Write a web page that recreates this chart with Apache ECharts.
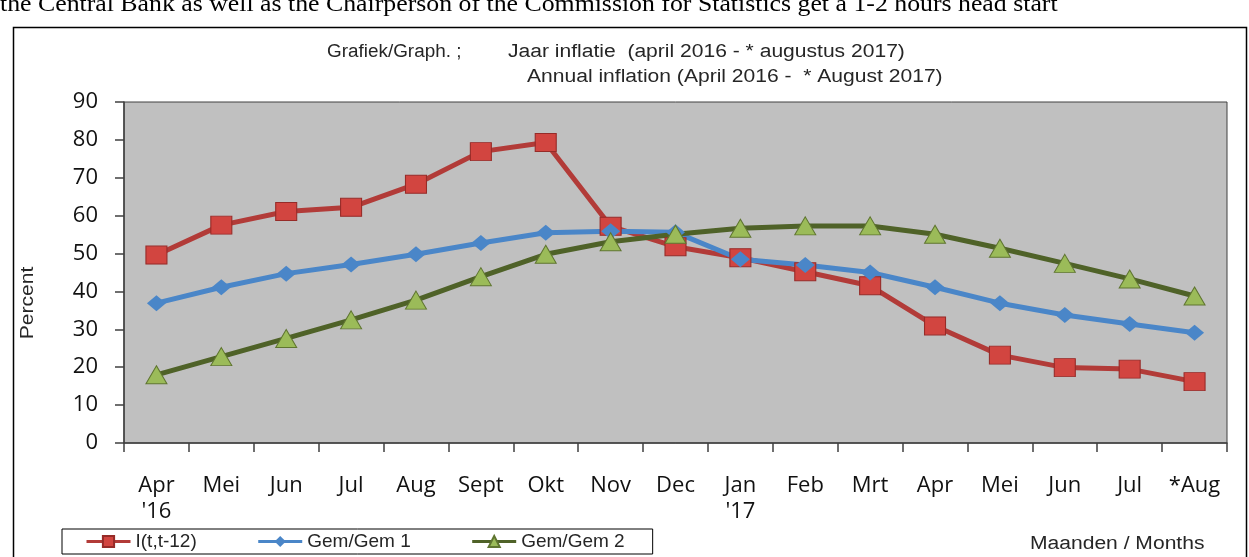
<!DOCTYPE html>
<html lang="en">
<head>
    <meta charset="UTF-8">
    <title>Jaar inflatie / Annual inflation</title>
    <script src="https://cdn.jsdelivr.net/npm/echarts@6/dist/echarts.min.js"></script>
    <style>
        html, body { margin: 0; padding: 0; background: #fff; }
    </style>
</head>
<body>
<div id="main" style="width: 1249px;height:557px;"></div>
<script type="text/javascript">
    // months april 2016 - august 2017 (* = provisional)
    var months = ['Apr', 'Mei', 'Jun', 'Jul', 'Aug', 'Sept', 'Okt', 'Nov', 'Dec',
                  'Jan', 'Feb', 'Mrt', 'Apr', 'Mei', 'Jun', 'Jul', '*Aug'];
    var years = ["'16", '', '', '', '', '', '', '', '', "'17", '', '', '', '', '', '', ''];

    // I(t,t-12)
    var inflation = [49.6, 57.5, 61.1, 62.2, 68.3, 76.9, 79.3, 57.2, 51.8,
                     48.9, 45.2, 41.5, 30.9, 23.2, 19.9, 19.5, 16.2];
    // Gem/Gem 1
    var gem1 = [36.9, 41.1, 44.7, 47.1, 49.8, 52.8, 55.5, 55.9, 55.6,
                48.5, 47.0, 45.0, 41.1, 36.9, 33.8, 31.4, 29.1];
    // Gem/Gem 2
    var gem2 = [18.0, 22.8, 27.6, 32.5, 37.7, 43.9, 49.8, 53.1, 55.1,
                56.7, 57.3, 57.3, 55.1, 51.4, 47.4, 43.3, 38.8];

    var yTicks = [0, 10, 20, 30, 40, 50, 60, 70, 80, 90];

    var chartDom = document.getElementById('main');
    var myChart = echarts.init(chartDom);
    var option;

    var sansFont = '18px "Liberation Sans", Arial, sans-serif';
    var stretch = 1.17;

    option = {
        animation: false,
        backgroundColor: '#fff',
        graphic: [
            {
                type: 'text', x: 0, y: 5, scaleX: 1.075, silent: true,
                style: {
                    text: 'the Central Bank as well as the Chairperson of the Commission for Statistics get a 1-2 hours head start',
                    font: '24px "Liberation Serif", "Times New Roman", serif',
                    fill: '#000', textAlign: 'left', textVerticalAlign: 'middle'
                }
            },
            {
                type: 'rect', silent: true,
                shape: { x: 13.5, y: 27.5, width: 1233, height: 560 },
                style: { fill: 'none', stroke: '#000', lineWidth: 1.5 }
            },
            {
                type: 'text', x: 327, y: 52, scaleX: 1.05, silent: true,
                style: { text: 'Grafiek/Graph. ;', font: sansFont, fill: '#262626', textVerticalAlign: 'middle' }
            },
            {
                type: 'text', x: 508, y: 52, scaleX: stretch, silent: true,
                style: { text: 'Jaar inflatie  (april 2016 - * augustus 2017)', font: sansFont, fill: '#262626', textVerticalAlign: 'middle' }
            },
            {
                type: 'text', x: 527, y: 77, scaleX: stretch, silent: true,
                style: { text: 'Annual inflation (April 2016 -  * August 2017)', font: sansFont, fill: '#262626', textVerticalAlign: 'middle' }
            },
            {
                type: 'text', x: 28, y: 303, rotation: Math.PI / 2, scaleX: stretch, silent: true,
                style: { text: 'Percent', font: sansFont, fill: '#262626', textAlign: 'center', textVerticalAlign: 'middle' }
            },
            {
                type: 'text', x: 1030, y: 544, scaleX: stretch, silent: true,
                style: { text: 'Maanden / Months', font: sansFont, fill: '#262626', textVerticalAlign: 'middle' }
            }
        ],
        legend: {
            left: 62,
            top: 529,
            orient: 'horizontal',
            padding: [3, 28, 3, 23],
            itemWidth: 44,
            itemHeight: 14,
            itemGap: 60,
            borderColor: '#000',
            borderWidth: 1,
            backgroundColor: '#fff',
            lineStyle: { width: 3 },
            textStyle: {
                fontFamily: '"Liberation Sans", Arial, sans-serif',
                fontSize: 19,
                color: '#262626'
            },
            data: ['I(t,t-12)', 'Gem/Gem 1', 'Gem/Gem 2']
        },
        grid: {
            left: 124,
            right: 22,
            top: 102,
            bottom: 114,
            show: true,
            backgroundColor: '#c0c0c0',
            borderColor: '#404040',
            borderWidth: 1
        },
        xAxis: {
            type: 'category',
            data: months,
            boundaryGap: true,
            axisLine: { lineStyle: { color: '#404040', width: 1.5 } },
            axisTick: { show: true, length: 9, lineStyle: { color: '#404040', width: 1.5 } },
            axisLabel: {
                interval: 0,
                margin: 30,
                fontFamily: '"Open Sans", "Noto Sans", sans-serif',
                fontSize: 22,
                lineHeight: 26,
                color: '#111',
                formatter: function (value, index) {
                    return years[index] ? value + '\n' + years[index] : value;
                }
            },
            splitLine: { show: false }
        },
        yAxis: {
            type: 'value',
            min: yTicks[0],
            max: yTicks[yTicks.length - 1],
            interval: 10,
            axisLine: { show: true, lineStyle: { color: '#404040', width: 1.5 } },
            axisTick: { show: true, length: 9, lineStyle: { color: '#404040', width: 1.5 } },
            axisLabel: {
                margin: 26,
                fontFamily: '"Open Sans", "Noto Sans", sans-serif',
                fontSize: 22,
                color: '#111'
            },
            splitLine: { show: false }
        },
        series: [
            {
                name: 'I(t,t-12)',
                type: 'line',
                data: inflation,
                symbol: 'rect',
                symbolSize: [21, 18],
                lineStyle: { color: '#b23b38', width: 5 },
                itemStyle: { color: '#d24540', borderColor: '#962b28', borderWidth: 1 }
            },
            {
                name: 'Gem/Gem 1',
                type: 'line',
                data: gem1,
                symbol: 'diamond',
                symbolSize: [19, 16],
                lineStyle: { color: '#4a86c8', width: 5 },
                itemStyle: { color: '#4a86c8', borderColor: '#4a86c8', borderWidth: 0 }
            },
            {
                name: 'Gem/Gem 2',
                type: 'line',
                data: gem2,
                symbol: 'triangle',
                symbolSize: [21, 18],
                lineStyle: { color: '#4f6228', width: 5 },
                itemStyle: { color: '#9bbb59', borderColor: '#5f7530', borderWidth: 1 }
            }
        ]
    };

    option && myChart.setOption(option);
    window.addEventListener("resize", function () {
        myChart.resize();
    });
</script>
</body>
</html>
